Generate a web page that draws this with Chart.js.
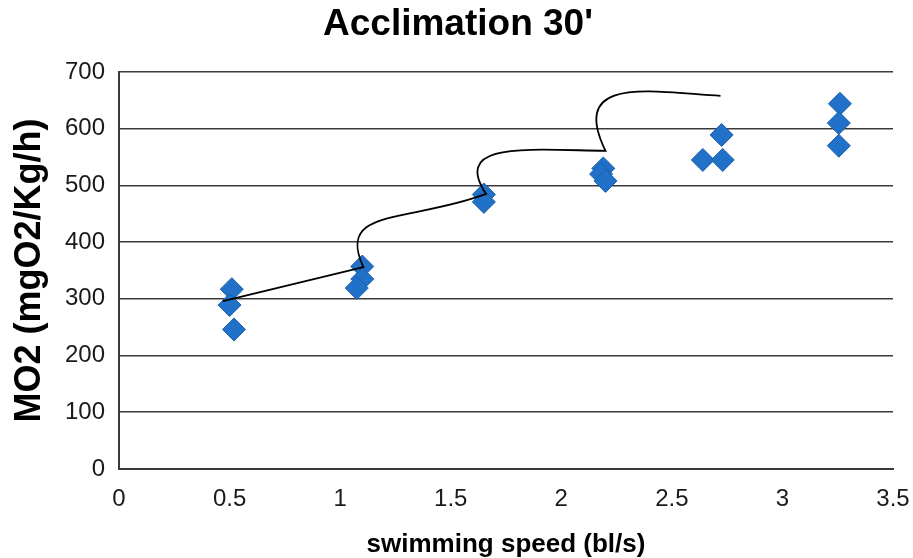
<!DOCTYPE html>
<html>
<head>
<meta charset="utf-8">
<script src="https://cdn.jsdelivr.net/npm/chart.js@4/dist/chart.umd.min.js"></script>
<style>
  body { margin: 0; background: #fff; }
  #wrap { width: 913px; height: 558px; }
</style>
</head>
<body>
<div id="wrap"><canvas id="grafico"></canvas></div>
<script>
// measured points (blue diamonds)
const speedPts = [0.51, 0.50, 0.52, 1.10, 1.10, 1.075, 1.65, 1.65, 2.19, 2.18, 2.20, 2.64, 2.73, 2.725, 3.26, 3.255, 3.255];
const mo2Pts = [317, 289, 246, 357, 335, 319, 484, 471, 530, 520, 508, 545, 545, 589, 644, 610, 570];

// hand drawn trend line nodes
const speedLine = [0.47, 1.105, 1.66, 2.2, 2.72];
const mo2Line = [296, 356, 485, 561, 658];

const xTicks = [0, 0.5, 1, 1.5, 2, 2.5, 3, 3.5];
const yTicks = [0, 100, 200, 300, 400, 500, 600, 700];

// bezier handle offsets (px) per segment: [out dx, out dy, in dx, in dy]
const curveHandles = [[0, 0, 0, 0], [-28, -60, -77, 29], [-35, -53, -77, -1], [-37, -76, -70, -4]];

const toXY = (xs, ys) => xs.map((x, i) => ({ x: x, y: ys[i] }));

const bendLine = {
  id: 'bendLine',
  beforeDatasetDraw(chart, args) {
    if (args.index !== 0) return;
    const line = args.meta.dataset;
    line.updateControlPoints(chart.chartArea, 'x');
    const pts = args.meta.data;
    curveHandles.forEach((h, i) => {
      const a = pts[i], b = pts[i + 1];
      if (!a || !b) return;
      a.cp2x = a.x + h[0];
      a.cp2y = a.y + h[1];
      b.cp1x = b.x + h[2];
      b.cp1y = b.y + h[3];
    });
  }
};

const tickFont = { family: 'Liberation Sans, Arial, sans-serif', size: 24 };

new Chart(document.getElementById('grafico'), {
  type: 'scatter',
  data: {
    datasets: [{
      type: 'line',
      data: toXY(speedLine, mo2Line),
      borderColor: '#000',
      borderWidth: 1.8,
      tension: 0.4,
      pointRadius: 0,
      fill: false,
      order: 0
    }, {
      data: toXY(speedPts, mo2Pts),
      pointStyle: 'rectRot',
      pointRadius: 11.5,
      backgroundColor: '#2271c9',
      borderColor: '#1b5fa9',
      borderWidth: 1,
      order: 1
    }]
  },
  options: {
    responsive: true,
    maintainAspectRatio: false,
    animation: false,
    layout: { padding: { left: 23, right: 20, top: 0, bottom: 0 } },
    plugins: {
      legend: { display: false },
      tooltip: { enabled: false },
      title: {
        display: true,
        text: "Acclimation 30'",
        color: '#000',
        font: { family: 'Liberation Sans, Arial, sans-serif', size: 37, weight: 'bold' },
        padding: { top: 3, bottom: 24.6 }
      }
    },
    scales: {
      x: {
        type: 'linear',
        min: 0,
        max: 3.5,
        afterBuildTicks: s => { s.ticks = xTicks.map(v => ({ value: v })); },
        afterFit: s => { s.height = 89; s.paddingLeft = 0; s.paddingRight = 0; },
        grid: { display: false, drawTicks: false },
        border: { display: true, color: '#3a3a3a', width: 2 },
        ticks: { color: '#1a1a1a', font: tickFont, padding: 16, maxRotation: 0, callback: v => String(v) },
        title: {
          display: true,
          text: 'swimming speed (bl/s)',
          color: '#000',
          font: { family: 'Liberation Sans, Arial, sans-serif', size: 26, weight: 'bold', lineHeight: 1 },
          padding: { top: 0, bottom: 0 }
        }
      },
      y: {
        min: 0,
        max: 700,
        afterBuildTicks: s => { s.ticks = yTicks.map(v => ({ value: v })); },
        afterFit: s => { s.width = 96; },
        grid: { color: '#3a3a3a', lineWidth: 1.6, drawTicks: false },
        border: { display: true, color: '#3a3a3a', width: 2 },
        ticks: { color: '#1a1a1a', font: tickFont, padding: 14 },
        title: {
          display: true,
          text: 'MO2 (mgO2/Kg/h)',
          color: '#000',
          font: { family: 'Liberation Sans, Arial, sans-serif', size: 36, weight: 'bold' },
          padding: { top: -15, bottom: 0 }
        }
      }
    }
  },
  plugins: [bendLine]
});
</script>
</body>
</html>
